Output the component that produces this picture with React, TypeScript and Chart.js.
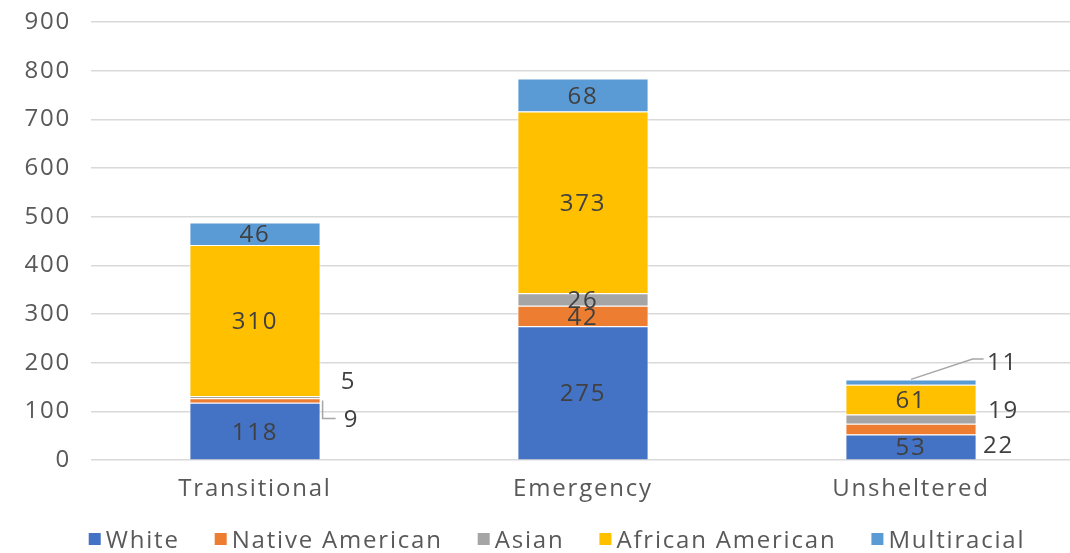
import React, { useEffect, useRef } from "react";
import { Chart, registerables } from "chart.js";

Chart.register(...registerables);

const categories = ["Transitional", "Emergency", "Unsheltered"];
const seriesNames = ["White", "Native American", "Asian", "African American", "Multiracial"];
const white = [118, 275, 53];
const nativeAmerican = [9, 42, 22];
const asian = [5, 26, 19];
const africanAmerican = [310, 373, 61];
const multiracial = [46, 68, 11];
const yTicks = [0, 100, 200, 300, 400, 500, 600, 700, 800, 900];

const seriesValues = [white, nativeAmerican, asian, africanAmerican, multiracial];
const colors = ["#4472C4", "#ED7D31", "#A5A5A5", "#FFC000", "#5B9BD5"];

const FONT = "'Open Sans', sans-serif";
const FONT_SIZE = 24;
const LETTER_SPACING = "1.8px";
const LEGEND_CENTER_X = 557;
const LEGEND_BASELINE_Y = 548;

// Labels drawn outside small segments (offsets in px relative to bar right edge / segment centre)
type Outside = { dx: number; dy: number; leader?: "elbow" | "diag" };
const OUTSIDE: Record<string, Outside> = {
  "1-0": { dx: 31, dy: 18, leader: "elbow" },
  "2-0": { dx: 28, dy: -17 },
  "1-2": { dx: 22, dy: 15 },
  "2-2": { dx: 27, dy: -10 },
  "4-2": { dx: 26, dy: -21, leader: "diag" },
};

const spacingPlugin = {
  id: "spacing",
  beforeInit(chart: any) {
    chart.ctx.letterSpacing = LETTER_SPACING;
  },
  beforeUpdate(chart: any) {
    chart.ctx.letterSpacing = LETTER_SPACING;
  },
  beforeLayout(chart: any) {
    chart.ctx.letterSpacing = LETTER_SPACING;
  },
  beforeDraw(chart: any) {
    chart.ctx.letterSpacing = LETTER_SPACING;
  },
};

const labelPlugin = {
  id: "segLabels",
  afterDatasetsDraw(chart: any) {
    const ctx = chart.ctx;
    ctx.save();
    ctx.letterSpacing = LETTER_SPACING;
    ctx.font = `${FONT_SIZE}px ${FONT}`;
    ctx.textAlign = "center";
    ctx.textBaseline = "alphabetic";
    const capHalf = (FONT_SIZE * 0.714) / 2;
    chart.data.datasets.forEach((ds: any, di: number) => {
      const meta = chart.getDatasetMeta(di);
      meta.data.forEach((el: any, i: number) => {
        const { x, y, base, width } = el.getProps(["x", "y", "base", "width"], true);
        const v = ds.data[i];
        const cy = (y + base) / 2;
        const o = OUTSIDE[`${di}-${i}`];
        ctx.fillStyle = "#404040";
        if (!o) {
          ctx.fillText(String(v), x, cy + capHalf);
          return;
        }
        const right = x + width / 2;
        const lx = right + o.dx;
        const ly = cy + o.dy;
        if (o.leader) {
          ctx.strokeStyle = "#A6A6A6";
          ctx.lineWidth = 1.5;
          ctx.beginPath();
          if (o.leader === "elbow") {
            ctx.moveTo(right + 2, cy);
            ctx.lineTo(right + 2, ly);
            ctx.lineTo(lx - 16, ly);
          } else {
            ctx.moveTo(x, y);
            ctx.lineTo(lx - 30, ly - 2);
            ctx.lineTo(lx - 19, ly - 2);
          }
          ctx.stroke();
        }
        ctx.fillText(String(v), lx, ly + capHalf);
      });
    });
    ctx.restore();
  },
};

const legendPlugin = {
  id: "customLegend",
  afterDraw(chart: any) {
    const ctx = chart.ctx;
    ctx.save();
    ctx.letterSpacing = LETTER_SPACING;
    ctx.font = `${FONT_SIZE}px ${FONT}`;
    ctx.textBaseline = "alphabetic";
    ctx.textAlign = "left";
    const box = 12;
    const gapBoxText = 5;
    const gapItems = 35;
    const items = chart.data.datasets.map((ds: any) => ({
      label: ds.label,
      color: ds.backgroundColor,
      w: ctx.measureText(ds.label).width,
    }));
    const total =
      items.reduce((s: number, it: any) => s + box + gapBoxText + it.w, 0) + gapItems * (items.length - 1);
    let x = LEGEND_CENTER_X - total / 2;
    items.forEach((it: any) => {
      ctx.fillStyle = it.color;
      ctx.fillRect(x, LEGEND_BASELINE_Y - 15, box, box);
      ctx.fillStyle = "#595959";
      ctx.fillText(it.label, x + box + gapBoxText, LEGEND_BASELINE_Y);
      x += box + gapBoxText + it.w + gapItems;
    });
    ctx.restore();
  },
};

export default function App() {
  const ref = useRef<HTMLCanvasElement | null>(null);
  useEffect(() => {
    if (!ref.current) return;
    const chart = new Chart(ref.current, {
      type: "bar",
      data: {
        labels: categories,
        datasets: seriesNames.map((name, i) => ({
          label: name,
          data: seriesValues[i],
          backgroundColor: colors[i],
          borderColor: "rgba(255,255,255,0.85)",
          borderWidth: 1,
          barPercentage: 0.4,
          categoryPercentage: 1,
        })),
      },
      options: {
        animation: false,
        responsive: true,
        maintainAspectRatio: false,
        layout: { padding: { top: 0, right: 0, bottom: 34, left: 0 } },
        plugins: {
          legend: { display: false },
          tooltip: { enabled: false },
        },
        scales: {
          x: {
            stacked: true,
            grid: { display: false, drawTicks: false },
            border: { display: false },
            ticks: { color: "#595959", font: { family: FONT, size: FONT_SIZE }, padding: 15 },
          },
          y: {
            stacked: true,
            min: 0,
            max: 900,
            afterBuildTicks: (scale: any) => {
              scale.ticks = yTicks.map((v) => ({ value: v }));
            },
            afterFit: (scale: any) => {
              scale.width = 91;
              scale.paddingTop = 22;
              scale.paddingBottom = 0;
            },
            grid: { color: "#D9D9D9", lineWidth: 1.5, drawTicks: false },
            border: { display: false },
            ticks: { color: "#595959", font: { family: FONT, size: FONT_SIZE }, padding: 20 },
          },
        },
      },
      plugins: [spacingPlugin, labelPlugin, legendPlugin],
    });
    return () => chart.destroy();
  }, []);
  return (
    <div style={{ position: "absolute", left: 0, top: 0, width: 1070, height: 553, overflow: "hidden" }}>
      <div style={{ position: "relative", width: 1075, height: 553 }}>
        <canvas ref={ref} />
      </div>
    </div>
  );
}
